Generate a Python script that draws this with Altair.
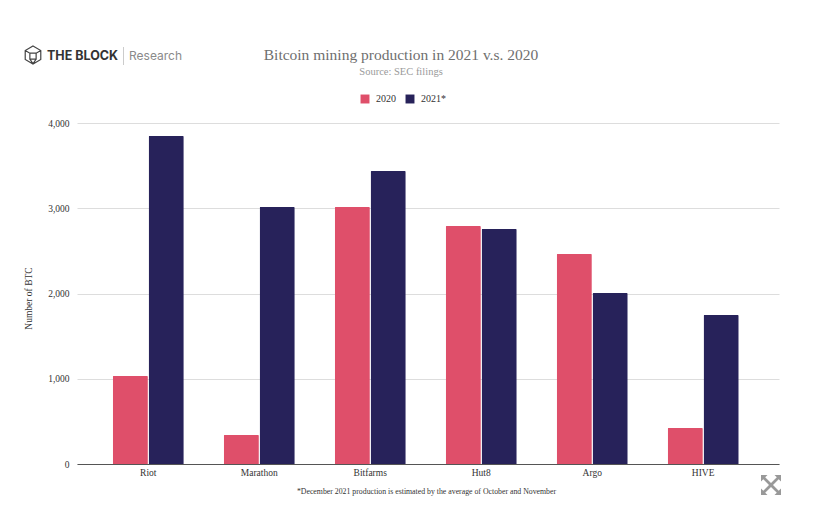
import altair as alt
import pandas as pd

companies = ["Riot", "Marathon", "Bitfarms", "Hut8", "Argo", "HIVE"]
values_2020 = [1032, 340, 3015, 2792, 2463, 422]
values_2021 = [3847, 3015, 3437, 2756, 2006, 1748]
series_names = ["2020", "2021*"]
series_colors = ["#df4f6a", "#27225a"]
y_ticks = [0, 1000, 2000, 3000, 4000]

rows = []
for c, a, b in zip(companies, values_2020, values_2021):
    rows.append({"company": c, "series": series_names[0], "btc": a})
    rows.append({"company": c, "series": series_names[1], "btc": b})
df = pd.DataFrame(rows)

SERIF = "Liberation Serif"
HEX = "M0,-1 L0.87,-0.5 L0.87,0.5 L0,1 L-0.87,0.5 L-0.87,-0.5 Z M-0.87,-0.5 L-0.35,-0.2 L0.35,-0.2 L0.87,-0.5 M-0.35,-0.2 L-0.35,0.45 L0.35,0.45 L0.35,-0.2 M-0.35,0.45 L0,1 M0.35,0.45 L0,1"
EXPAND = ("M-1,-1 L-0.35,-1 L-0.58,-0.77 L0,-0.2 L0.58,-0.77 L0.35,-1 L1,-1 L1,-0.35 L0.77,-0.58 L0.2,0 "
          "L0.77,0.58 L1,0.35 L1,1 L0.35,1 L0.58,0.77 L0,0.2 L-0.58,0.77 L-0.35,1 L-1,1 L-1,0.35 L-0.77,0.58 "
          "L-0.2,0 L-0.77,-0.58 L-1,-0.35 Z")

bars = alt.Chart(df).mark_bar(cornerRadiusTopLeft=1, cornerRadiusTopRight=1).encode(
    x=alt.X(
        "company:N",
        sort=companies,
        scale=alt.Scale(paddingInner=0.36, paddingOuter=0.3425, align=0.47),
        axis=alt.Axis(
            title="*December 2021 production is estimated by the average of October and November",
            titleFont=SERIF, titleFontSize=7.8, titleFontWeight="normal", titleColor="#333333",
            titlePadding=11, titleX=349,
            labelAngle=0, labelFont=SERIF, labelFontSize=9.5, labelColor="#333333", labelPadding=3,
            ticks=False, domainColor="#555555", domainWidth=1, grid=False,
        ),
    ),
    xOffset=alt.XOffset("series:N", sort=series_names, scale=alt.Scale(paddingInner=0.02)),
    y=alt.Y(
        "btc:Q",
        scale=alt.Scale(domain=[0, 4000], nice=False),
        axis=alt.Axis(
            values=y_ticks, format=",.0f", title="Number of BTC",
            titleFont=SERIF, titleFontSize=9.5, titleFontWeight="normal", titleColor="#333333",
            titlePadding=14, titleY=175,
            labelFont=SERIF, labelFontSize=9.5, labelColor="#333333", labelPadding=8,
            ticks=False, domain=False, grid=True, gridColor="#dddddd", gridWidth=1,
        ),
    ),
    color=alt.Color(
        "series:N",
        sort=series_names,
        scale=alt.Scale(domain=series_names, range=series_colors),
        legend=alt.Legend(
            title=None, orient="none", legendX=283, legendY=-29, direction="horizontal",
            symbolType="square", symbolSize=80, symbolStrokeWidth=0, columnPadding=9,
            labelFont=SERIF, labelFontSize=10, labelColor="#333333", labelOffset=6,
        ),
    ),
)

logo_bold = alt.Chart(pd.DataFrame({"t": ["THE BLOCK"]})).mark_text(
    font="Inter", fontSize=12.5, fontWeight="bold", color="#333333", align="left", baseline="middle"
).encode(text="t:N", x=alt.value(-30), y=alt.value(-67))
logo_light = alt.Chart(pd.DataFrame({"t": ["Research"]})).mark_text(
    font="Inter", fontSize=12, color="#8a8a8a", align="left", baseline="middle"
).encode(text="t:N", x=alt.value(52), y=alt.value(-67))
logo_bar = alt.Chart(pd.DataFrame({"t": [0]})).mark_rule(color="#cccccc", strokeWidth=1).encode(
    x=alt.value(46.5), y=alt.value(-76), y2=alt.value(-58)
)
logo_icon = alt.Chart(pd.DataFrame({"t": [0]})).mark_point(
    shape=HEX, size=320, filled=False, color="#444444", strokeWidth=1.2, opacity=1
).encode(x=alt.value(-44), y=alt.value(-68))
expand_icon = alt.Chart(pd.DataFrame({"t": [0]})).mark_point(
    shape=EXPAND, size=400, filled=True, color="#999999", opacity=1
).encode(x=alt.value(694), y=alt.value(362))

chart = alt.layer(bars, logo_icon, logo_bold, logo_light, logo_bar, expand_icon).properties(
    width=702,
    height=341,
    padding={"left": 69, "right": 45, "top": 115, "bottom": 40},
    autosize=alt.AutoSizeParams(type="none"),
    title=alt.TitleParams(
        text="Bitcoin mining production in 2021 v.s. 2020",
        subtitle="Source: SEC filings",
        anchor="middle", dx=-27, offset=-34,
        font=SERIF, fontSize=15.5, fontWeight="normal", color="#6f6f6f",
        subtitleFont=SERIF, subtitleFontSize=10.5, subtitleColor="#9a9a9a", subtitlePadding=4,
    ),
).configure_view(stroke=None).configure_axis(labelFontWeight="normal")

chart.save("out.html", embed_options={"renderer": "svg", "actions": False})
